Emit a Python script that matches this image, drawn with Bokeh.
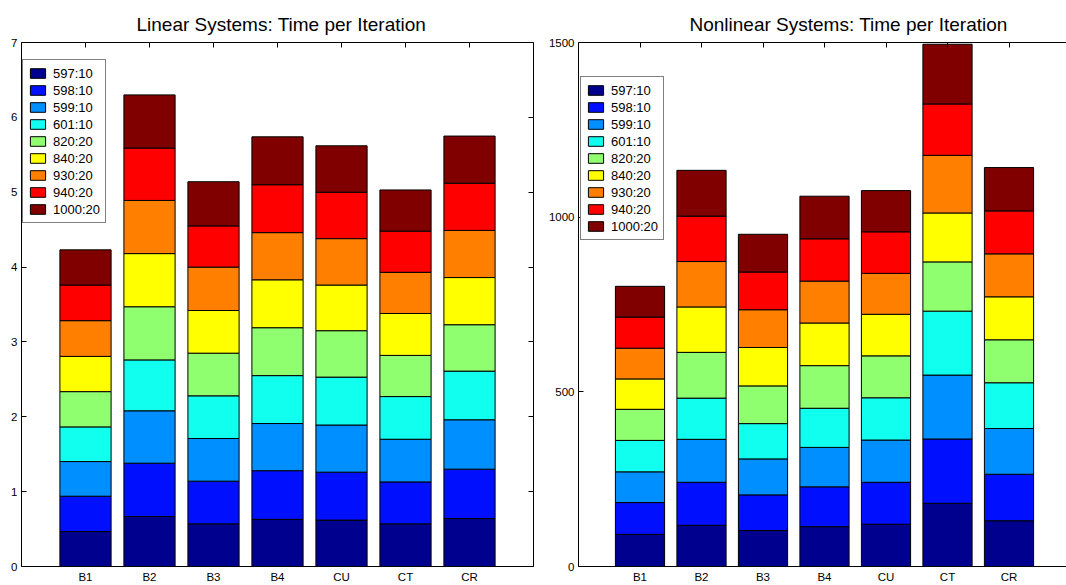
from bokeh.plotting import figure
from bokeh.models import LinearAxis, FixedTicker, Range1d, ColumnDataSource
from bokeh.layouts import row
from bokeh.embed import file_html
from bokeh.resources import INLINE

categories = ["B1", "B2", "B3", "B4", "CU", "CT", "CR"]
series = ["597:10", "598:10", "599:10", "601:10", "820:20", "840:20", "930:20", "940:20", "1000:20"]
colors = ["#00008F", "#0010FF", "#008FFF", "#10FFEF", "#8FFF70", "#FFFF00", "#FF8000", "#FF0000", "#800000"]

# Linear systems: time per iteration, one list per series (B1..CR)
lin_597 = [0.467, 0.668, 0.57, 0.63, 0.62, 0.57, 0.64]
lin_598 = [0.472, 0.712, 0.57, 0.65, 0.64, 0.56, 0.66]
lin_599 = [0.463, 0.70, 0.57, 0.63, 0.63, 0.57, 0.66]
lin_601 = [0.463, 0.68, 0.57, 0.64, 0.64, 0.57, 0.65]
lin_820 = [0.471, 0.71, 0.57, 0.64, 0.62, 0.55, 0.62]
lin_840 = [0.471, 0.71, 0.57, 0.64, 0.61, 0.56, 0.63]
lin_930 = [0.477, 0.71, 0.58, 0.63, 0.62, 0.55, 0.63]
lin_940 = [0.476, 0.70, 0.55, 0.64, 0.62, 0.55, 0.63]
lin_1000 = [0.47, 0.71, 0.59, 0.64, 0.62, 0.55, 0.63]

# Nonlinear systems: time per iteration
non_597 = [92, 118, 103, 114, 121, 181, 131]
non_598 = [91, 123, 102, 114, 120, 184, 133]
non_599 = [88, 123, 103, 113, 121, 183, 131]
non_601 = [90, 118, 101, 112, 121, 183, 131]
non_820 = [89, 131, 108, 122, 120, 141, 123]
non_840 = [87, 130, 110, 122, 119, 140, 123]
non_930 = [88, 130, 108, 120, 117, 165, 123]
non_940 = [89, 130, 108, 121, 119, 147, 123]
non_1000 = [88, 131, 108, 122, 118, 171, 124]

lin_ticks = [0, 1, 2, 3, 4, 5, 6, 7]
non_ticks = [0, 500, 1000, 1500]

FONT = "Liberation Sans"
FRAME_H = 524


def panel(title, cols, yticks, ymax, xend, frame_w, mb_left, mb_right, has_right,
          title_offset, legend_xy):
    xs = list(range(1, len(categories) + 1))
    data = {"x": xs}
    for s, c in zip(series, cols):
        data[s] = c
    src = ColumnDataSource(data)
    p = figure(frame_width=frame_w, frame_height=FRAME_H,
               x_range=Range1d(0, xend), y_range=Range1d(0, ymax),
               output_backend="svg", toolbar_location=None,
               min_border_left=mb_left, min_border_right=mb_right,
               min_border_top=42, min_border_bottom=19,
               background_fill_color="white", border_fill_color="white")
    p.outline_line_color = None
    p.xgrid.visible = False
    p.ygrid.visible = False

    p.vbar_stack(series, x="x", width=0.8, source=src, fill_color=colors,
                 line_color="black", line_width=1, legend_label=series)

    # bottom axis
    xa = p.xaxis[0]
    xa.ticker = FixedTicker(ticks=xs)
    xa.major_label_overrides = {i: c for i, c in zip(xs, categories)}
    xa.major_tick_in = 0
    xa.major_tick_out = 0
    xa.minor_tick_line_color = None
    xa.major_label_standoff = 4
    xa.major_label_text_font = FONT
    xa.major_label_text_font_size = "11.5px"
    xa.major_label_text_color = "black"
    xa.axis_line_color = "black"

    # left axis
    ya = p.yaxis[0]
    ya.ticker = FixedTicker(ticks=yticks)
    ya.major_tick_in = 5
    ya.major_tick_out = 0
    ya.minor_tick_line_color = None
    ya.major_label_standoff = 4
    ya.major_label_text_font = FONT
    ya.major_label_text_font_size = "11.5px"
    ya.major_label_text_color = "black"
    ya.axis_line_color = "black"

    top = LinearAxis(ticker=FixedTicker(ticks=xs), major_tick_in=5, major_tick_out=0,
                     minor_tick_line_color=None, major_label_text_font_size="1px",
                     major_label_text_color=None,
                     major_label_standoff=0, axis_line_color="black")
    p.add_layout(top, "above")
    if has_right:
        right = LinearAxis(ticker=FixedTicker(ticks=yticks), major_tick_in=5, major_tick_out=0,
                           minor_tick_line_color=None, major_label_text_font_size="1px",
                           major_label_text_color=None,
                           major_label_standoff=0, axis_line_color="black")
        p.add_layout(right, "right")

    p.title.text = title
    p.title.align = "left"
    p.title.offset = title_offset
    p.title.text_font = FONT
    p.title.text_font_size = "19px"
    p.title.text_font_style = "normal"
    p.title.text_color = "black"
    p.title.standoff = 16

    lg = p.legend[0]
    lg.location = legend_xy
    lg.margin = 0
    lg.padding = 5
    lg.spacing = 1
    lg.glyph_width = 19
    lg.glyph_height = 12
    lg.label_height = 16
    lg.label_width = 44
    lg.label_standoff = 6
    lg.label_text_font = FONT
    lg.label_text_font_size = "13px"
    lg.label_text_color = "black"
    lg.border_line_color = "black"
    lg.border_line_width = 1
    lg.background_fill_color = "white"
    lg.background_fill_alpha = 1.0
    return p


lin_cols = [lin_597, lin_598, lin_599, lin_601, lin_820, lin_840, lin_930, lin_940, lin_1000]
non_cols = [non_597, non_598, non_599, non_601, non_820, non_840, non_930, non_940, non_1000]

p1 = panel("Linear Systems: Time per Iteration", lin_cols, lin_ticks, 7, 8, 512, 21, 12, True,
           115, (1, FRAME_H - 19 - 162))
p2 = panel("Nonlinear Systems: Time per Iteration", non_cols, non_ticks, 1500, 489 / 61.5, 489, 32, 0,
           False, 111, (2, FRAME_H - 36 - 162))

layout = row(p1, p2, spacing=0)
open("out.html", "w").write(file_html(layout, INLINE))
